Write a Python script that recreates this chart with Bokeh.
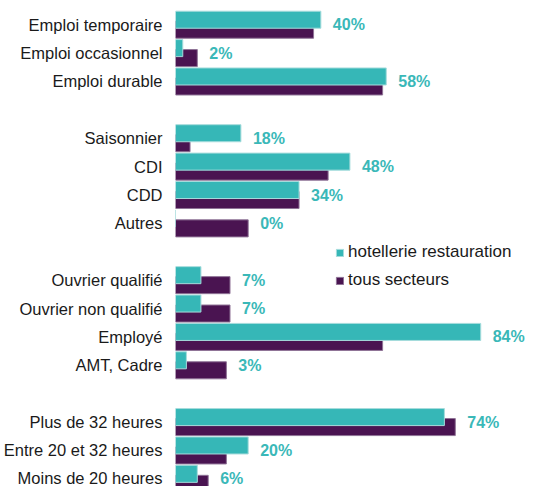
from bokeh.plotting import figure
from bokeh.models import (ColumnDataSource, Range1d, FixedTicker, LabelSet,
                          Legend, LegendItem)
from bokeh.core.properties import value
from bokeh.embed import file_html
from bokeh.resources import INLINE

# ---- data ----
categories = ["Emploi temporaire", "Emploi occasionnel", "Emploi durable",
              "Saisonnier", "CDI", "CDD", "Autres",
              "Ouvrier qualifié", "Ouvrier non qualifié", "Employé", "AMT, Cadre",
              "Plus de 32 heures", "Entre 20 et 32 heures", "Moins de 20 heures"]
group = [0, 0, 0, 1, 1, 1, 1, 2, 2, 2, 2, 3, 3, 3]
hotellerie = [40, 2, 58, 18, 48, 34, 0, 7, 7, 84, 3, 74, 20, 6]
tous_secteurs = [38, 6, 57, 4, 42, 34, 20, 15, 15, 57, 14, 77, 14, 9]
series_names = ["hotellerie restauration", "tous secteurs"]

TEAL = "#36B7B7"
PURPLE = "#4A1451"
FONT = "Liberation Sans"

# one blank row between groups
rows = [i + g for i, g in enumerate(group)]
n_rows = rows[-1]
off = 0.176
bar_h = 0.6

src = ColumnDataSource(dict(
    row=rows,
    y_teal=[r - off for r in rows],
    y_purple=[r + off for r in rows],
    teal=hotellerie,
    purple=tous_secteurs,
    lab_x=[max(a, b) for a, b in zip(hotellerie, tous_secteurs)],
    lab=[f"{v}%" for v in hotellerie],
))

p = figure(width=534, height=486, output_backend="svg", toolbar_location=None,
           x_axis_location=None,
           x_range=Range1d(0, 98.8),
           y_range=Range1d(n_rows + 0.27, -0.853),
           min_border_top=0, min_border_bottom=0, min_border_right=0,
           min_border_left=0)
p.outline_line_color = None
p.background_fill_color = "white"
p.border_fill_color = "white"
p.xgrid.visible = False
p.ygrid.visible = False

r_purple = p.hbar(y="y_purple", right="purple", left=0, height=bar_h, source=src,
                  fill_color=PURPLE, line_color="#8f7396", line_width=1)
r_teal = p.hbar(y="y_teal", right="teal", left=0, height=bar_h, source=src,
                fill_color=TEAL, line_color="#a6dcdc", line_width=1)

labels = LabelSet(x="lab_x", y="row", text="lab", source=src, x_offset=12,
                  text_font=value(FONT), text_font_size=value("16px"),
                  text_font_style=value("bold"),
                  text_color=value("#3AB8B8"), text_baseline=value("middle"),
                  text_align=value("left"))
p.add_layout(labels)

ax = p.yaxis[0]
ax.ticker = FixedTicker(ticks=rows)
ax.major_label_overrides = {r: c for r, c in zip(rows, categories)}
ax.axis_line_color = None
ax.major_tick_line_color = None
ax.minor_tick_line_color = None
ax.major_tick_out = 0
ax.major_tick_in = 0
ax.major_label_standoff = 13
ax.major_label_text_font = FONT
ax.major_label_text_font_size = "16.5px"
ax.major_label_text_color = "#1a1a1a"

legend = Legend(items=[LegendItem(label=series_names[0], renderers=[r_teal]),
                       LegendItem(label=series_names[1], renderers=[r_purple])],
                location=(160, 196), orientation="vertical",
                glyph_width=9, glyph_height=9, label_standoff=4,
                label_height=20, spacing=8, padding=0, margin=0,
                border_line_color=None, background_fill_alpha=0,
                label_text_font=FONT, label_text_font_size="17px",
                label_text_color="#1a1a1a")
p.add_layout(legend)

open("out.html", "w").write(file_html(p, INLINE))
